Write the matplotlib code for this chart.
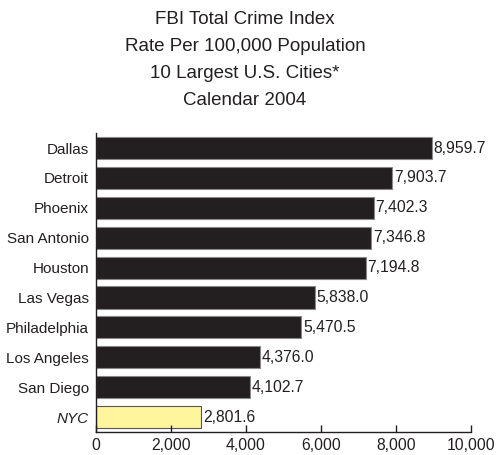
import matplotlib.pyplot as plt

cities = ["Dallas", "Detroit", "Phoenix", "San Antonio", "Houston",
          "Las Vegas", "Philadelphia", "Los Angeles", "San Diego", "NYC"]
rates = [8959.7, 7903.7, 7402.3, 7346.8, 7194.8,
         5838.0, 5470.5, 4376.0, 4102.7, 2801.6]
xticks = [0, 2000, 4000, 6000, 8000, 10000]
title_lines = ["FBI Total Crime Index", "Rate Per 100,000 Population",
               "10 Largest U.S. Cities*", "Calendar 2004"]

plt.rcParams['font.family'] = ["Liberation Sans", "DejaVu Sans"]

fig = plt.figure(figsize=(4.96, 4.55), dpi=100)
ax = fig.add_axes([0.1935, 0.0505, 0.756, 0.657])

colors = ["#231f20"] * 9 + ["#fff59d"]
edges = ["#888888"] * 9 + ["#555555"]
pos = list(range(len(cities)))
ax.barh(pos, rates, height=0.74, color=colors, edgecolor=edges, linewidth=0.8)

for p, v in zip(pos, rates):
    ax.text(v + 50, p, f"{v:,.1f}", va="center", ha="left", fontsize=11.3, color="#231f20")

ax.set_ylim(9.5, -0.5)
ax.set_xlim(0, 10000)
ax.set_yticks(pos)
ax.set_yticklabels(cities, fontsize=11, color="#231f20")
ax.get_yticklabels()[-1].set_style("italic")
ax.set_xticks(xticks)
ax.set_xticklabels([f"{t:,}" for t in xticks], fontsize=11.3, color="#231f20")
ax.tick_params(axis="y", length=0, pad=5)
ax.tick_params(axis="x", direction="in", length=5, width=1, color="#231f20", pad=4)
for s in ["top", "right"]:
    ax.spines[s].set_visible(False)
for s in ["left", "bottom"]:
    ax.spines[s].set_color("#231f20")
    ax.spines[s].set_linewidth(1)

# title lines, one by one (pixel rows of the reference)
for i, line in enumerate(title_lines):
    y = 1 - (20 + 26.7 * i) / 455
    fig.text(0.494, y, line, ha="center", va="center", fontsize=13.5, color="#231f20")

fig.savefig("out.png", dpi=100)
